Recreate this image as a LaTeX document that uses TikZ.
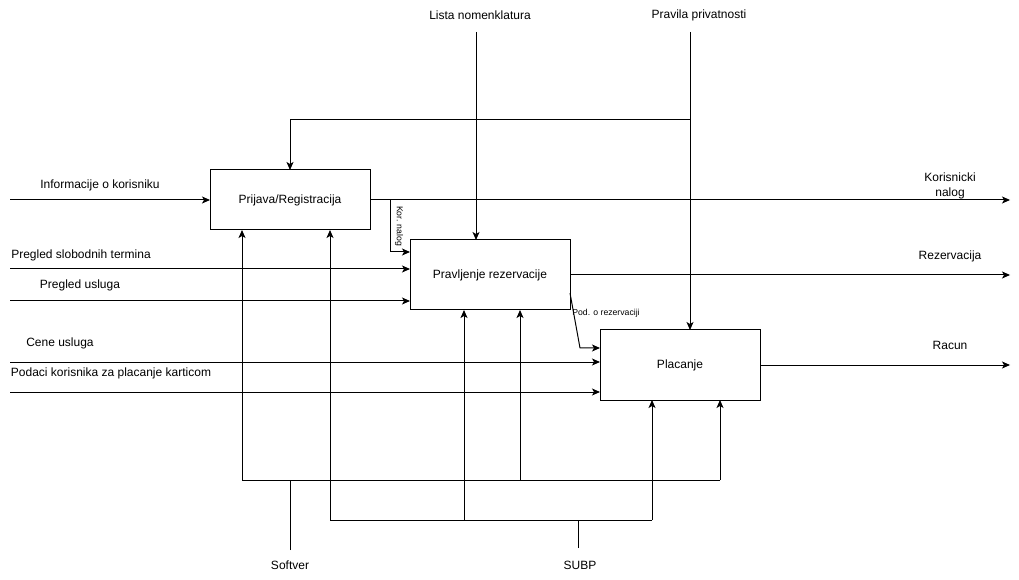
\documentclass[tikz,border=0pt]{standalone}
\usepackage{fontspec}
\setmainfont{Liberation Sans}
\usetikzlibrary{arrows.meta, positioning}
\tikzset{
  % IDEF0 styles
  func/.style={rectangle, draw=black, fill=white, line width=0.75pt, outer sep=0pt, minimum width=120pt, minimum height=#1, text centered, font=\fontsize{9}{11}\selectfont},
  func/.default={52.5pt},
  lbl/.style={font=\fontsize{9}{11}\selectfont, inner sep=0pt, align=center},
  smalllbl/.style={font=\fontsize{6.5}{8}\selectfont, inner sep=0pt},
  arrow/.style={-{Stealth[length=6pt, width=5.25pt, inset=1.5pt]}, line width=0.75pt},
  wire/.style={line width=0.75pt},
}

\begin{document}
\begin{tikzpicture}[x=0.75pt, y=-0.75pt]
    \useasboundingbox (0,0) rectangle (1019,580);

    % Functions
    \node[func=45pt] (prijava) at (290,200) {Prijava/Registracija};
    \node[func, below right=7.5pt and 30pt of prijava] (pravljenje) {Pravljenje rezervacije};
    \node[func, below right=15pt and 22.5pt of pravljenje] (placanje) {Placanje};

    % Inputs
    \coordinate (in1) at (10,200);
    \coordinate (in2) at (10,269);
    \coordinate (in3) at (10,301);
    \coordinate (in4) at (10,362);
    \coordinate (in5) at (10,392);
    \node[lbl] (linfo) at (100,185) {Informacije o korisniku};
    \node[lbl] (ltermin) at (81,255) {Pregled slobodnih termina};
    \node[lbl] (lusluga) at (80,285) {Pregled usluga};
    \node[lbl] (lcene) at (60,343) {Cene usluga};
    \node[lbl] (lkartica) at (111,373) {Podaci korisnika za placanje karticom};
    \draw[arrow] (in1) -- (prijava.west);
    \draw[arrow] (in2) -- (pravljenje.west |- in2);
    \draw[arrow] (in3) -- (pravljenje.west |- in3);
    \draw[arrow] (in4) -- (placanje.west |- in4);
    \draw[arrow] (in5) -- (placanje.west |- in5);

    % Outputs
    \coordinate (out1) at (1010,200);
    \coordinate (out2) at (1010,275);
    \coordinate (out3) at (1010,365);
    \node[lbl] (lnalog) at (950,186) {Korisnicki\\nalog};
    \node[lbl] (lrez) at (950,256) {Rezervacija};
    \node[lbl] (lracun) at (950,345) {Racun};
    \draw[arrow] (prijava.east) -- (out1);
    \draw[arrow] (pravljenje.east) -- (out2);
    \draw[arrow] (placanje.east) -- (out3);

    % Internal flows
    \draw[arrow] ([xshift=15pt]prijava.east) |- ([yshift=17.25pt]pravljenje.west);
    \node[smalllbl, rotate=-90] (lkor) at (399,226) {Kor. nalog};
    \draw[arrow] ([yshift=-13.5pt]pravljenje.east) -- ([xshift=-15pt, yshift=12.75pt]placanje.west) -- ([yshift=12.75pt]placanje.west);
    \node[smalllbl] (lpod) at (606,313) {Pod. o rezervaciji};

    % Controls
    \node[lbl] (llista) at (480,15) {Lista nomenklatura};
    \node[lbl] (lpravila) at (699,15) {Pravila privatnosti};
    \coordinate (c1) at (476,32);
    \coordinate (c2) at (690,32);
    \coordinate (c2b) at (690,120);
    \draw[arrow] (c1) -- (c1 |- pravljenje.north);
    \draw[arrow] (c2) -- (c2 |- placanje.north);
    \draw[arrow] (c2b) -| (prijava.north);

    % Mechanisms
    \node[lbl] (lsoftver) at (290,565) {Softver};
    \node[lbl] (lsubp) at (580,565) {SUBP};
    \coordinate (m1) at (290,550);
    \coordinate (m1bus) at (290,480);
    \coordinate (m2) at (578,548);
    \coordinate (m2bus) at (578,520);
    \coordinate (sw1) at (242,480);
    \coordinate (sw2) at (520,480);
    \coordinate (sw3) at (720,480);
    \coordinate (db1) at (330,520);
    \coordinate (db2) at (464,520);
    \coordinate (db3) at (652,520);
    \draw[wire] (m1) -- (m1bus);
    \draw[wire] (sw1) -- (sw3);
    \draw[wire] (m2) -- (m2bus);
    \draw[wire] (db1) -- (db3);
    \foreach \p/\f in {sw1/prijava, sw2/pravljenje, sw3/placanje, db1/prijava, db2/pravljenje, db3/placanje}
      \draw[arrow] (\p) -- (\p |- \f.south);
\end{tikzpicture}
\end{document}
